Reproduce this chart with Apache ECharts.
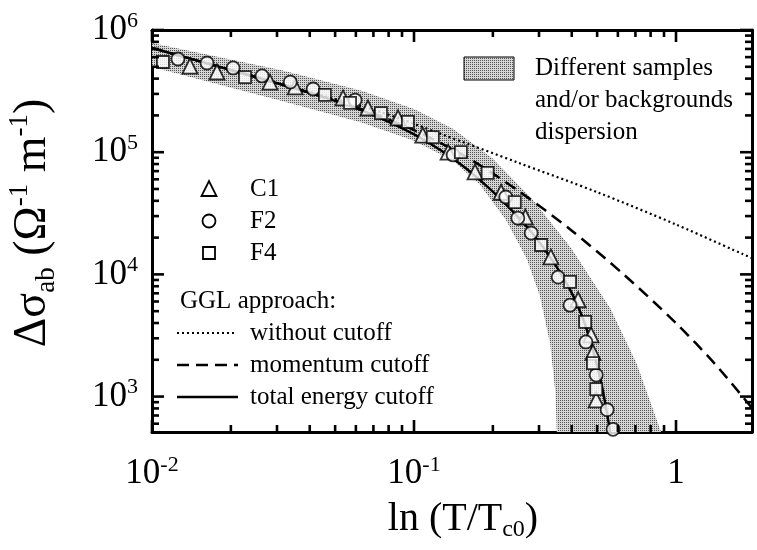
<!DOCTYPE html>
<html><head><meta charset="utf-8">
<script src="https://cdn.jsdelivr.net/npm/echarts@6/dist/echarts.min.js"></script>
<style>html,body{margin:0;padding:0;background:#fff}#c{width:757px;height:550px}</style>
</head><body><div id="c"></div>
<script>
// ---- axis ranges and tick labels ----
const xRange = [0.01, 1.95];
const yRange = [513, 1e6];
const xTickValues = [0.01, 0.1, 1];
const xTickText = ['10^-2', '10^-1', '1'];
const yTickValues = [1e3, 1e4, 1e5, 1e6];
const yTickText = ['10^3', '10^4', '10^5', '10^6'];

// ---- data: [ln(T/Tc0), Δσab] ----
const c1 = [[0.01396,5.07e5],[0.0177,4.53e5],[0.0282,3.75e5],[0.0352,3.42e5],[0.0536,2.78e5],[0.0667,2.30e5],[0.0869,1.91e5],[0.108,1.38e5],[0.135,1.00e5],[0.171,6.9e4],[0.215,4.7e4],[0.266,2.95e4],[0.333,1.39e4],[0.423,6.2e3],[0.474,3.2e3],[0.482,2.3e3],[0.496,940]];
const f2 = [[0.01256,5.79e5],[0.01622,5.37e5],[0.0204,4.89e5],[0.0263,4.21e5],[0.0337,3.75e5],[0.0412,3.29e5],[0.0596,2.67e5],[0.141,9.5e4],[0.224,4.3e4],[0.249,2.89e4],[0.28,2.18e4],[0.355,9.5e3],[0.394,5.6e3],[0.453,2.8e3],[0.496,1.5e3],[0.546,780],[0.575,540]];
const f4 = [[0.01101,5.47e5],[0.02265,4.12e5],[0.0457,2.94e5],[0.057,2.53e5],[0.0748,2.09e5],[0.0948,1.77e5],[0.118,1.33e5],[0.151,1.0e5],[0.191,6.76e4],[0.2425,3.91e4],[0.3055,1.74e4],[0.394,8.67e3],[0.45,4.08e3],[0.482,1.88e3],[0.496,1.15e3]];

const withoutCutoff = [[0.01,7.13e5],[0.01995,4.71e5],[0.0398,3.11e5],[0.0741,2.14e5],[0.1259,1.419e5],[0.2512,8.17e4],[0.5012,4.70e4],[1,2.56e4],[1.95,1.355e4]];
const momentumCutoff = [[0.01,7.13e5],[0.01995,4.71e5],[0.0398,3.07e5],[0.0631,2.244e5],[0.1,1.517e5],[0.1585,9.14e4],[0.2512,4.80e4],[0.3981,2.30e4],[0.631,1.0e4],[1,3990],[1.413,1834],[1.95,806]];
const totalEnergyCutoff = [[0.01,7.13e5],[0.01995,4.71e5],[0.0398,3.07e5],[0.0631,2.20e5],[0.0891,1.587e5],[0.1122,1.218e5],[0.1413,8.82e4],[0.1778,5.96e4],[0.2239,3.76e4],[0.2818,2.19e4],[0.3388,1.284e4],[0.3981,7190],[0.4467,4040],[0.4898,2121],[0.5248,1139],[0.5623,497]];

const bandUpper = [[0.01,7.83e5],[0.0316,4.67e5],[0.0631,3.19e5],[0.1,2.26e5],[0.1413,1.545e5],[0.1995,8.89e4],[0.2818,4.16e4],[0.3981,1.637e4],[0.5623,5236],[0.7079,1858],[0.8511,615],[0.877,513]];
const bandLower = [[0.01,4.98e5],[0.0316,2.61e5],[0.0631,1.75e5],[0.1,1.239e5],[0.1413,8.47e4],[0.1778,5.47e4],[0.2239,2.81e4],[0.2692,1.343e4],[0.302,6730],[0.3311,2679],[0.3467,1067],[0.3508,513]];

// ---- layout ----
const W = 757, H = 550;
const GRID = { left: 152, right: 5, top: 30, bottom: 118 };
const FONT = 'Liberation Serif';

// ---- helpers ----
const lg = v => Math.log10(v);
const toLog = arr => arr.map(p => [lg(p[0]), lg(p[1])]);
function richText(t) {
  const m = t.split('^');
  return m.length > 1 ? '{b|' + m[0] + '}{s|' + m[1] + '}' : '{b|' + t + '}';
}
function minorTicks(range) {
  const out = [];
  const lo = Math.floor(lg(range[0])), hi = Math.ceil(lg(range[1]));
  for (let n = lo; n <= hi; n++) for (let k = 2; k <= 9; k++) {
    const v = lg(k) + n;
    if (v >= lg(range[0]) && v <= lg(range[1])) out.push(v);
  }
  return out;
}
function labelFormatter(vals, texts) {
  return function (v) {
    for (let i = 0; i < vals.length; i++) if (Math.abs(lg(vals[i]) - v) < 1e-6) return richText(texts[i]);
    return '';
  };
}
const labelRich = {
  b: { fontFamily: FONT, fontSize: 35, lineHeight: 40, color: '#000' },
  s: { fontFamily: FONT, fontSize: 22, lineHeight: 24, verticalAlign: 'top', color: '#000' }
};

// stipple pattern for the dispersion band
const pc = document.createElement('canvas');
pc.width = 2; pc.height = 2;
const pctx = pc.getContext('2d');
pctx.fillStyle = '#d6d6d6'; pctx.fillRect(0, 0, 2, 2);
pctx.fillStyle = '#555'; pctx.fillRect(0, 0, 1, 1);
const stipple = { image: pc, repeat: 'repeat' };

function axis(dim, range, majors, texts, position, showLabel) {
  return {
    type: 'value', min: lg(range[0]), max: lg(range[1]), position: position,
    splitLine: { show: false },
    axisLine: { show: true, onZero: false, lineStyle: { color: '#000', width: 3 } },
    axisTick: { show: false },
    axisLabel: showLabel ? {
      show: true, margin: dim === 'x' ? 22 : 14, customValues: majors.map(lg),
      formatter: labelFormatter(majors, texts), rich: labelRich
    } : { show: false }
  };
}

const X0 = lg(xRange[0]), X1 = lg(xRange[1]), Y0 = lg(yRange[0]), Y1 = lg(yRange[1]);
const plotW = W - GRID.left - GRID.right, plotH = H - GRID.top - GRID.bottom;
const xPix = v => GRID.left + (v - X0) / (X1 - X0) * plotW;
const yPix = v => GRID.top + (Y1 - v) / (Y1 - Y0) * plotH;
const xB = GRID.left, xR = W - GRID.right, yT = GRID.top, yB = H - GRID.bottom;

// inside tick marks on all four sides, as small filled bars
const tickEls = [];
function bar(x, y, w, h) {
  tickEls.push({ type: 'rect', z: 50, shape: { x: x, y: y, width: w, height: h }, style: { fill: '#000' } });
}
const TW = 2.6;
function addX(v, len) { const p = xPix(v); bar(p - TW / 2, yB - len, TW, len); bar(p - TW / 2, yT, TW, len); }
function addY(v, len) { const p = yPix(v); bar(xB, p - TW / 2, len, TW); bar(xR - len, p - TW / 2, len, TW); }
xTickValues.forEach(v => addX(lg(v), 12));
minorTicks(xRange).forEach(v => addX(v, 7));
yTickValues.forEach(v => addY(lg(v), 12));
minorTicks(yRange).forEach(v => addY(v, 7));

const bandPoly = bandUpper.concat(bandLower.slice().reverse());

function markerSeries(name, data, symbol, size) {
  return {
    name: name, type: 'scatter', data: toLog(data), symbol: symbol, symbolSize: size,
    itemStyle: { color: '#fff', borderColor: '#000', borderWidth: 1.8 }, z: 5
  };
}
function lineSeries(name, data, type, width) {
  return {
    name: name, type: 'line', data: toLog(data), showSymbol: false, symbol: 'none',
    smooth: 0.3, clip: true,
    lineStyle: { color: '#000', width: width, type: type }, z: 4
  };
}
function txt(x, y, s) {
  return { type: 'text', x: x, y: y, z: 10, style: { text: s, fontFamily: FONT, fontSize: 25, fill: '#000', verticalAlign: 'middle' } };
}

const option = {
  animation: false,
  backgroundColor: '#fff',
  grid: { left: GRID.left, right: GRID.right, top: GRID.top, bottom: GRID.bottom, containLabel: false },
  xAxis: [axis('x', xRange, xTickValues, xTickText, 'bottom', true), axis('x', xRange, xTickValues, xTickText, 'top', false)],
  yAxis: [axis('y', yRange, yTickValues, yTickText, 'left', true), axis('y', yRange, yTickValues, yTickText, 'right', false)],
  series: [
    {
      name: 'Different samples and/or backgrounds dispersion', type: 'custom', z: 1,
      data: [[X0, Y0]],
      renderItem: function (params, api) {
        const pts = bandPoly.map(p => api.coord([lg(p[0]), lg(p[1])]));
        return { type: 'polygon', shape: { points: pts }, style: { fill: stipple, stroke: null } };
      }
    },
    lineSeries('without cutoff', withoutCutoff, [2, 3], 2.2),
    lineSeries('momentum cutoff', momentumCutoff, [12, 7], 2.5),
    lineSeries('total energy cutoff', totalEnergyCutoff, 'solid', 2.5),
    markerSeries('C1', c1, 'triangle', 15),
    markerSeries('F2', f2, 'circle', 13),
    markerSeries('F4', f4, 'rect', 12)
  ],
  graphic: {
    elements: [
      // axis titles
      { type: 'text', x: 463, y: 519, z: 10, style: {
          text: '{m|ln (T/T}{sub|c0}{m|)}', align: 'center', verticalAlign: 'middle',
          rich: { m: { fontFamily: FONT, fontSize: 40, lineHeight: 46, color: '#000' },
                  sub: { fontFamily: FONT, fontSize: 24, lineHeight: 24, verticalAlign: 'bottom', color: '#000' } } } },
      { type: 'text', x: 33, y: 223, rotation: Math.PI / 2, z: 10, style: {
          text: '{m|Δσ}{sub|ab}{m| (Ω}{sup|-1}{m| m}{sup|-1}{m|)}', align: 'center', verticalAlign: 'middle',
          rich: { m: { fontFamily: FONT, fontSize: 46, lineHeight: 54, color: '#000' },
                  sub: { fontFamily: FONT, fontSize: 27, lineHeight: 28, verticalAlign: 'bottom', color: '#000' },
                  sup: { fontFamily: FONT, fontSize: 27, lineHeight: 30, verticalAlign: 'top', color: '#000' } } } },
      // band legend
      { type: 'rect', shape: { x: 464, y: 57, width: 50, height: 23 }, z: 10, style: { fill: stipple, stroke: '#000', lineWidth: 1 } },
      txt(535, 68, 'Different samples'), txt(535, 100, 'and/or backgrounds'), txt(535, 132, 'dispersion'),
      // marker legend
      { type: 'polygon', z: 10, shape: { points: [[201.5, 196], [216.5, 196], [209, 181]] }, style: { fill: '#fff', stroke: '#000', lineWidth: 1.8 } },
      { type: 'circle', z: 10, shape: { cx: 209, cy: 221, r: 6.5 }, style: { fill: '#fff', stroke: '#000', lineWidth: 1.8 } },
      { type: 'rect', z: 10, shape: { x: 203, y: 247, width: 12, height: 12 }, style: { fill: '#fff', stroke: '#000', lineWidth: 1.8 } },
      txt(250, 189, 'C1'), txt(250, 221, 'F2'), txt(250, 253, 'F4'),
      // line legend
      txt(180, 301, 'GGL approach:'),
      { type: 'line', z: 10, shape: { x1: 177, y1: 333, x2: 234, y2: 333 }, style: { stroke: '#000', lineWidth: 2.2, lineDash: [2, 3] } },
      { type: 'line', z: 10, shape: { x1: 177, y1: 365, x2: 238, y2: 365 }, style: { stroke: '#000', lineWidth: 2.5, lineDash: [12, 7] } },
      { type: 'line', z: 10, shape: { x1: 177, y1: 397, x2: 238, y2: 397 }, style: { stroke: '#000', lineWidth: 2.5 } },
      txt(250, 333, 'without cutoff'), txt(250, 365, 'momentum cutoff'), txt(250, 397, 'total energy cutoff')
    ].concat(tickEls)
  }
};

const chart = echarts.init(document.getElementById('c'), null, { renderer: 'canvas' });
chart.setOption(option);
</script>
</body></html>
